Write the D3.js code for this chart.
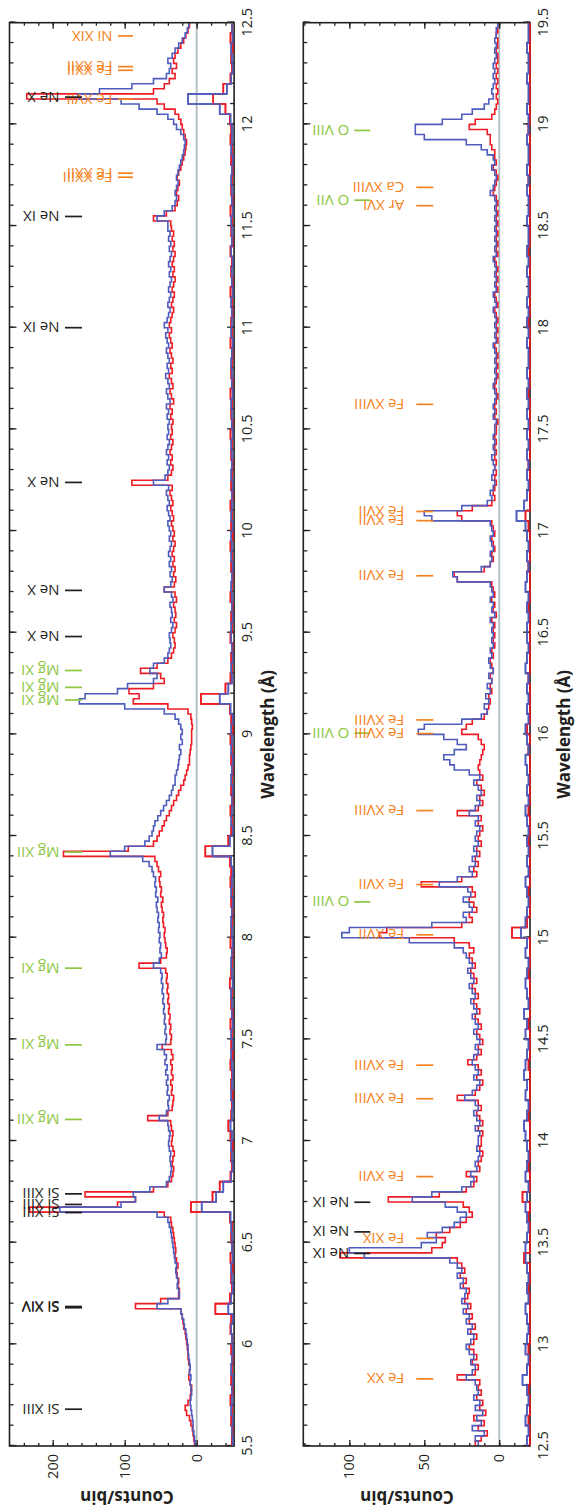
<!DOCTYPE html>
<html>
<head>
<meta charset="utf-8">
<script src="https://cdn.jsdelivr.net/npm/d3@7"></script>
<style>
  body { margin: 0; background: #fff; }
  svg { display: block; font-family: "Open Sans", "DejaVu Sans", sans-serif; }
</style>
</head>
<body>
<svg id="chart" width="578" height="1512"></svg>
<script>
// ---- data (counts per 0.025 A bin) ----
var binWidth = 0.025;
var lowBinWidth = 0.05;

// panel 1: 5.5 - 12.5 A
var red1 = [
  3,4,5,6,8,10,14,16,12,9,8,7,9,11,10,9,11,12,12,13,
  14,15,16,18,19,20,22,85,50,25,24,26,25,27,28,26,28,30,29,30,
  31,32,33,35,36,45,232,110,85,155,60,40,35,33,32,34,33,31,33,35,
  34,33,35,36,68,40,34,33,32,35,34,36,33,35,34,36,33,35,48,36,
  35,37,36,38,37,39,38,40,39,41,40,42,41,43,80,50,42,41,43,44,
  45,44,46,47,46,48,49,47,50,49,51,52,50,53,55,58,185,95,60,55,
  52,48,45,42,38,35,32,28,25,22,18,16,14,12,10,10,9,8,7,7,
  7,6,7,8,12,40,88,80,94,60,45,50,78,55,40,35,32,30,31,33,
  30,28,31,29,30,32,28,30,45,31,29,32,30,33,31,34,32,30,33,31,
  33,35,32,34,36,33,35,37,34,90,40,35,33,36,34,37,35,33,36,34,
  35,33,36,34,37,32,35,37,33,35,38,34,36,33,35,37,34,36,38,35,
  38,36,34,32,35,33,31,34,32,30,33,31,34,32,30,33,31,34,32,35,
  36,60,42,30,27,25,28,26,24,27,25,22,20,18,16,15,14,16,18,20,
  22,25,30,45,55,236,60,45,38,30,34,28,32,30,26,22,18,15,12,10
];
var blue1 = [
  2,3,4,5,5,6,7,8,9,8,7,8,9,8,10,9,10,11,12,12,
  13,14,15,17,18,20,22,55,40,24,25,27,26,28,29,28,30,31,32,33,
  34,35,36,38,40,55,190,105,85,88,65,42,38,36,35,36,37,36,38,39,
  38,37,39,40,52,42,39,40,38,41,40,42,40,43,41,44,42,45,55,43,
  42,44,43,45,44,46,45,47,46,48,47,49,48,50,60,52,49,51,50,52,
  51,53,52,54,53,55,56,54,57,56,58,57,60,62,66,75,120,100,72,66,
  62,60,58,54,50,46,42,38,35,33,30,30,28,26,25,24,22,24,20,22,
  20,22,25,30,45,100,163,155,110,96,60,55,65,60,45,40,38,36,37,38,
  35,33,36,34,35,37,33,35,45,36,34,37,35,38,36,39,37,35,38,36,
  38,40,37,39,41,38,40,42,39,60,44,40,38,41,39,42,40,38,41,39,
  40,38,41,39,42,37,40,42,38,40,43,39,41,38,40,42,39,41,43,40,
  45,41,39,37,40,38,36,39,37,35,38,36,39,37,35,38,36,39,37,40,
  40,55,45,34,30,28,30,28,26,28,26,24,22,20,18,17,16,18,22,28,
  32,40,55,80,105,165,135,90,60,42,38,36,40,34,30,25,20,16,13,11
];

// panel 2: 12.5 - 19.5 A
var red2 = [
  16,12,8,14,10,17,9,13,11,15,12,14,13,28,16,14,18,15,17,20,
  17,15,19,16,20,18,22,19,23,21,20,24,22,26,23,25,28,106,45,38,
  36,42,33,26,22,18,20,24,74,40,22,17,15,22,13,14,12,11,13,12,
  12,11,14,11,13,15,12,14,28,16,13,11,15,12,14,21,15,12,14,11,
  13,15,12,14,16,13,15,17,14,16,18,15,17,19,16,18,20,17,20,30,
  80,75,25,18,20,15,17,20,16,18,52,25,15,17,14,16,13,15,12,14,
  13,11,14,12,28,14,11,13,10,12,15,11,13,14,13,12,11,10,12,14,
  25,22,18,10,8,7,6,7,5,6,5,6,4,5,6,4,5,3,4,3,
  4,3,5,2,4,3,5,3,4,5,28,30,10,6,4,5,3,4,5,3,
  4,5,25,28,18,5,3,4,3,2,3,2,3,2,3,2,3,2,3,2,
  2,1,3,2,3,2,1,2,3,2,1,2,1,2,1,2,3,1,2,1,
  2,1,2,3,1,2,3,1,2,1,2,1,2,3,1,2,1,2,1,2,
  1,2,1,2,1,2,4,3,2,1,2,4,2,3,3,5,6,6,8,20,
  16,5,3,2,1,2,1,2,1,2,1,2,1,1,2,1,1,2,1,1
];
var blue2 = [
  14,16,10,18,12,15,11,16,13,17,14,15,16,22,18,16,19,17,20,22,
  19,17,21,18,22,20,24,21,25,23,22,26,24,28,25,28,33,90,100,52,
  42,48,38,30,26,22,28,36,58,45,25,19,17,19,15,16,14,13,15,14,
  14,13,16,13,15,17,14,16,23,18,15,13,17,14,16,18,17,14,16,13,
  15,17,14,16,18,15,17,19,16,18,20,17,19,21,18,20,22,24,30,60,
  105,100,45,22,24,18,20,24,19,21,40,28,18,20,16,18,15,17,14,16,
  15,13,16,14,20,16,13,15,12,14,17,13,20,30,33,37,30,22,28,37,
  54,50,25,12,8,10,7,9,6,8,5,7,4,6,7,5,6,4,5,4,
  5,4,6,3,5,4,6,4,5,6,28,31,12,6,5,6,4,5,6,4,
  5,6,45,50,25,8,5,6,4,3,5,4,3,4,5,3,4,3,4,3,
  3,2,4,3,4,3,2,3,4,3,2,3,2,3,2,3,4,2,3,2,
  3,2,3,4,2,3,4,2,3,2,3,2,3,4,2,3,2,3,2,3,
  2,3,2,3,2,3,6,4,3,2,3,5,3,4,8,12,22,50,56,56,
  38,25,18,10,7,4,5,4,3,4,3,4,3,2,3,2,3,2,2,1
];

// lower traces (counts above the bottom of the panel, 0.05 A bins)
var red1Low = [
  3,2,4,3,5,2,4,3,2,4,3,5,4,26,6,3,4,2,5,3,
  4,3,6,60,30,20,5,3,4,2,5,8,4,3,2,4,3,5,2,4,
  3,5,2,4,3,6,4,3,2,5,4,3,2,4,3,5,4,6,40,8,
  4,3,5,2,4,3,2,4,3,5,2,4,6,46,12,5,3,4,2,5,
  3,4,2,5,3,2,4,3,5,2,4,3,5,2,4,3,2,4,3,5,
  2,4,3,5,2,4,3,2,5,3,4,2,3,5,2,4,3,5,2,4,
  3,5,2,4,3,2,4,3,5,4,6,12,29,15,5,3,4,2,5,3
];
var blue1Low = [
  2,3,2,4,3,3,2,4,3,2,3,4,2,8,4,2,3,4,2,3,
  3,4,5,45,25,15,4,2,3,4,3,5,3,2,4,3,2,3,4,2,
  4,2,3,3,4,2,3,4,3,2,3,4,3,2,4,3,2,4,30,6,
  2,4,3,3,2,4,3,2,4,3,4,2,5,20,8,3,4,2,3,4,
  4,2,3,3,4,3,2,4,3,4,2,4,3,3,2,4,3,3,4,2,
  3,3,4,2,3,3,4,3,2,4,3,3,4,2,3,3,2,4,3,3,
  4,2,3,3,4,3,2,4,3,3,5,20,64,10,4,2,3,4,2,3
];
var red2Low = [
  0,0,1,0,0,1,0,0,0,1,0,0,0,0,0,1,0,0,4,0,
  0,0,1,0,5,0,0,1,0,0,0,0,1,0,0,0,0,1,0,0,
  0,1,0,0,0,0,1,0,0,0,12,2,0,0,1,0,0,0,0,1,
  0,0,1,0,0,0,0,0,1,0,2,0,0,0,0,1,0,0,0,0,
  0,0,1,0,0,0,1,0,0,0,1,3,0,0,0,0,1,0,0,0,
  0,0,0,1,0,0,0,0,0,0,1,0,0,0,0,0,0,1,0,0,
  0,0,0,0,1,0,0,0,0,1,0,0,0,0,0,0,0,0,0,0
];
var blue2Low = [
  2,1,3,2,1,2,5,2,1,3,2,1,2,3,1,2,1,2,3,3,
  2,1,2,3,2,1,3,2,1,2,3,4,2,1,3,2,4,3,2,1,
  3,2,4,1,2,3,2,1,3,2,6,3,2,1,2,3,1,2,1,2,
  1,2,3,1,2,1,2,3,1,2,3,1,2,1,2,1,3,2,1,2,
  2,1,2,1,3,2,1,2,1,2,3,9,4,2,1,2,1,2,1,2,
  1,2,1,2,1,2,1,1,2,1,2,1,2,1,1,2,1,2,1,1,
  2,1,1,2,1,2,1,1,2,1,1,2,1,1,2,1,1,2,1,1
];

// line identifications: [wavelength, label, kind]  k = black, g = green, o = orange
var lines1 = [
  [5.681, "Si XIII", "k"],
  [6.180, "Si XIV", "k"], [6.186, "Si XIV", "k"],
  [6.648, "Si XIII", "k"], [6.688, "Si XIII", "k"], [6.740, "Si XIII", "k"],
  [7.106, "Mg XII", "g"], [7.473, "Mg XI", "g"], [7.850, "Mg XI", "g"],
  [8.421, "Mg XII", "g"],
  [9.169, "Mg XI", "g"], [9.231, "Mg XI", "g"], [9.314, "Mg XI", "g"],
  [9.481, "Ne X", "k"], [9.708, "Ne X", "k"], [10.239, "Ne X", "k"],
  [11.000, "Ne IX", "k"], [11.547, "Ne IX", "k"],
  [11.740, "Fe XXIII", "o"], [11.760, "Fe XXII", "o"],
  [12.124, "Fe XVII", "o"], [12.134, "Ne X", "k"],
  [12.266, "Fe XXII", "o"], [12.284, "Fe XXII", "o"],
  [12.435, "Ni XIX", "o"]
];
var lines2 = [
  [12.830, "Fe XX", "o"],
  [13.447, "Ne IX", "k"], [13.521, "Fe XIX", "o"], [13.553, "Ne IX", "k"], [13.699, "Ne IX", "k"],
  [13.825, "Fe XVII", "o"],
  [14.208, "Fe XVIII", "o"], [14.373, "Fe XVIII", "o"],
  [15.014, "Fe XVII", "o"], [15.176, "O VIII", "g"], [15.261, "Fe XVII", "o"],
  [15.625, "Fe XVIII", "o"],
  [16.006, "O VIII", "g"], [16.004, "Fe XVIII", "o"], [16.071, "Fe XVIII", "o"],
  [16.780, "Fe XVII", "o"], [17.051, "Fe XVII", "o"], [17.096, "Fe XVII", "o"],
  [17.623, "Fe XVIII", "o"],
  [18.600, "Ar XVI", "o"], [18.627, "O VII", "g"], [18.690, "Ca XVIII", "o"],
  [18.970, "O VIII", "g"]
];

var lineColor = { k: "#231f20", g: "#8dc63f", o: "#f58220" };
var redColor = "#ed1c24", blueColor = "#4f5cbd";

var plotTop = 22.7, plotBottom = 1446;
var plotLen = plotBottom - plotTop;

var panels = [
  { start: 5.5, end: 12.5, red: red1, blue: blue1, redLow: red1Low, blueLow: blue1Low,
    yDomain: [-52, 260], major: 100, minor: 20, left: 9.5, right: 234.1, lines: lines1,
    kTextV: 50, kTick: [55.5, 72.5], oTextV: 103, oTick: [108.5, 123.5],
    yTitleX: 127, xTitleX: 268 },
  { start: 12.5, end: 19.5, red: red2, blue: blue2, redLow: red2Low, blueLow: blue2Low,
    yDomain: [-20.5, 130.7], major: 50, minor: 10, left: 303.3, right: 530, lines: lines2,
    kTextV: 46, kTick: [51, 67], oTextV: 101, oTick: [113, 130],
    yTitleX: 407, xTitleX: 564 }
];

var svg = d3.select("#chart");

panels.forEach(function(p) {
  var H = p.right - p.left;
  // chart is drawn in its natural orientation then turned by -90 degrees
  var g = svg.append("g")
    .attr("transform", "translate(" + p.left + "," + plotBottom + ") rotate(-90)");

  var x = d3.scaleLinear().domain([p.start, p.end]).range([0, plotLen]);
  var y = d3.scaleLinear().domain(p.yDomain).range([H, 0]);

  // zero line
  g.append("line")
    .attr("x1", 0).attr("x2", plotLen)
    .attr("y1", y(0)).attr("y2", y(0))
    .attr("stroke", "#aebcc2").attr("stroke-width", 1.8);

  var step = d3.line()
    .x(function(d) { return x(d[0]); })
    .y(function(d) { return y(d[1]); })
    .curve(d3.curveStepAfter);

  function pts(vals, w, base) {
    var out = vals.map(function(v, i) { return [p.start + i * w, base + v]; });
    out.push([p.start + vals.length * w, base + vals[vals.length - 1]]);
    return out;
  }

  var series = [
    { d: pts(p.redLow, lowBinWidth, p.yDomain[0]), c: redColor },
    { d: pts(p.blueLow, lowBinWidth, p.yDomain[0]), c: blueColor },
    { d: pts(p.red, binWidth, 0), c: redColor },
    { d: pts(p.blue, binWidth, 0), c: blueColor }
  ];
  g.selectAll("path.spec")
    .data(series)
    .join("path")
    .attr("class", "spec")
    .attr("d", function(s) { return step(s.d); })
    .attr("fill", "none")
    .attr("stroke", function(s) { return s.c; })
    .attr("stroke-width", 1.6);

  // axes: ticks point inwards on all four sides
  var majorX = d3.range(p.start, p.end + 0.01, 0.5);
  var minorX = d3.range(0, 71).map(function(i) { return p.start + i * 0.1; });
  var majorY = d3.range(0, p.yDomain[1], p.major);
  var minorY = d3.range(Math.ceil(p.yDomain[0] / p.minor) * p.minor, p.yDomain[1], p.minor);

  function clean(sel) {
    sel.select(".domain").remove();
    sel.selectAll("line").attr("stroke", "#231f20").attr("stroke-width", 1.3);
    sel.selectAll("text").attr("fill", "#231f20").style("font-size", "14.5px")
      .style("font-family", "'Open Sans', sans-serif");
  }

  g.append("g").attr("transform", "translate(0," + H + ")")
    .call(d3.axisBottom(x).tickValues(minorX).tickSize(-4).tickFormat("")).call(clean);
  g.append("g").attr("transform", "translate(0," + H + ")")
    .call(d3.axisBottom(x).tickValues(majorX).tickSize(-7).tickPadding(8)
      .tickFormat(function(d) { return String(+d.toFixed(1)); })).call(clean);
  g.append("g")
    .call(d3.axisTop(x).tickValues(minorX).tickSize(-4).tickFormat("")).call(clean);
  g.append("g")
    .call(d3.axisTop(x).tickValues(majorX).tickSize(-7).tickFormat("")).call(clean);

  g.append("g")
    .call(d3.axisLeft(y).tickValues(minorY).tickSize(-3).tickFormat("")).call(clean);
  g.append("g")
    .call(d3.axisLeft(y).tickValues(majorY).tickSize(-6).tickPadding(8).tickFormat(d3.format("d"))).call(clean);
  g.append("g").attr("transform", "translate(" + plotLen + ",0)")
    .call(d3.axisRight(y).tickValues(minorY).tickSize(-3).tickFormat("")).call(clean);
  g.append("g").attr("transform", "translate(" + plotLen + ",0)")
    .call(d3.axisRight(y).tickValues(majorY).tickSize(-6).tickFormat("")).call(clean);

  // frame
  g.append("rect")
    .attr("x", 0).attr("y", 0).attr("width", plotLen).attr("height", H)
    .attr("fill", "none").attr("stroke", "#231f20").attr("stroke-width", 1.6);

  // redraw the bottom traces over the frame
  g.selectAll("path.low")
    .data(series.slice(0, 2))
    .join("path")
    .attr("class", "low")
    .attr("d", function(s) { return step(s.d); })
    .attr("fill", "none")
    .attr("stroke", function(s) { return s.c; })
    .attr("stroke-width", 1.6);

  // line identifications
  var ids = g.append("g").selectAll("g")
    .data(p.lines)
    .join("g")
    .attr("fill", function(d) { return lineColor[d[2]]; });
  ids.append("line")
    .attr("x1", function(d) { return x(d[0]); })
    .attr("x2", function(d) { return x(d[0]); })
    .attr("y1", function(d) { return d[2] === "o" ? p.oTick[0] : p.kTick[0]; })
    .attr("y2", function(d) { return d[2] === "o" ? p.oTick[1] : p.kTick[1]; })
    .attr("stroke", function(d) { return lineColor[d[2]]; })
    .attr("stroke-width", 1.7);
  ids.append("text")
    .attr("transform", function(d) {
      var v = d[2] === "o" ? p.oTextV : p.kTextV;
      return "translate(" + x(d[0]) + "," + v + ") rotate(-90)";
    })
    .attr("dy", "0.36em")
    .style("font-size", "15px")
    .text(function(d) { return d[1]; });

  // axis titles
  svg.append("text")
    .attr("transform", "translate(" + p.yTitleX + ",1497) rotate(180)")
    .attr("text-anchor", "middle")
    .attr("dy", "0.35em")
    .style("font-size", "17px").style("font-weight", "bold")
    .attr("fill", "#231f20")
    .text("Counts/bin");
  svg.append("text")
    .attr("transform", "translate(" + p.xTitleX + "," + ((plotTop + plotBottom) / 2) + ") rotate(-90)")
    .attr("text-anchor", "middle")
    .attr("dy", "0.35em")
    .style("font-size", "17px").style("font-weight", "bold")
    .attr("fill", "#231f20")
    .text("Wavelength (\u00c5)");
});
</script>
</body>
</html>
